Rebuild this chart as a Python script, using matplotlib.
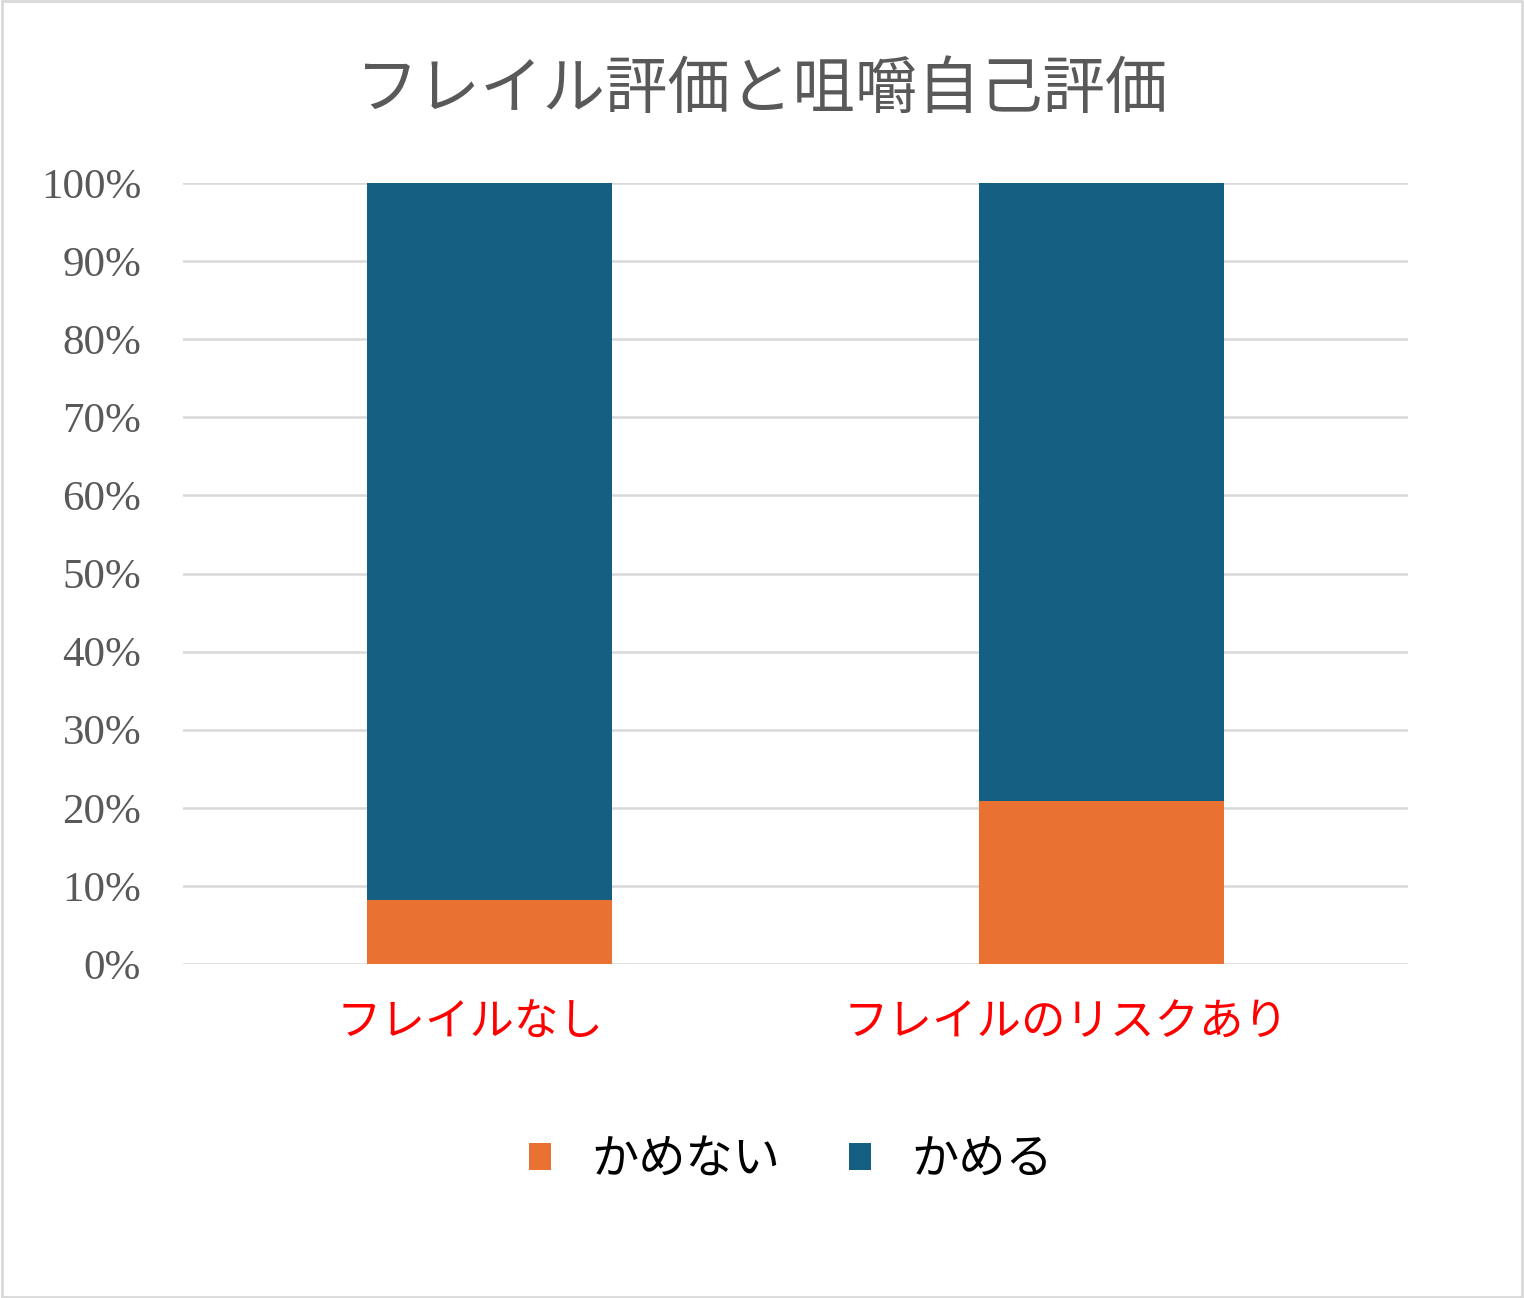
import matplotlib
matplotlib.use("Agg")
import matplotlib.pyplot as plt
from matplotlib.patches import Rectangle
from matplotlib.ticker import PercentFormatter
from matplotlib.transforms import ScaledTranslation

plt.rcParams['font.family'] = ['Noto Sans CJK JP', 'DejaVu Sans']

# data (percent)
categories = ['フレイルなし', 'フレイルのリスクあり']
cannot_chew = [8.2, 20.9]     # かめない
can_chew = [91.8, 79.1]       # かめる
series_names = ['かめない', 'かめる']
colors = ['#e97132', '#156082']

fig = plt.figure(figsize=(15.24, 12.98), dpi=100)
ax = fig.add_axes([0.120, 0.2573, 0.804, 0.6017])

x = list(range(len(categories)))
ax.bar(x, cannot_chew, width=0.4, color=colors[0], label=series_names[0], zorder=3)
ax.bar(x, can_chew, width=0.4, bottom=cannot_chew, color=colors[1],
       label=series_names[1], zorder=3)

ax.set_xlim(-0.5, 1.5)
ax.set_ylim(0, 100)
ax.set_yticks(range(0, 101, 10))
ax.yaxis.set_major_formatter(PercentFormatter(decimals=0))
ax.grid(axis='y', color='#d9d9d9', linewidth=1.8, zorder=0)
for s in ax.spines.values():
    s.set_visible(False)

ax.tick_params(axis='y', length=0, pad=30, labelsize=31, labelcolor='#595959')
for lab in ax.get_yticklabels():
    lab.set_family(['Liberation Serif', 'DejaVu Serif'])
ax.set_xticks(x)
ax.set_xticklabels(categories, fontsize=32, color='#ff0000')
ax.tick_params(axis='x', length=0, pad=26)
# labels in the original sit a little left of the bar centres
for lab, dx in zip(ax.get_xticklabels(), [-0.19, -0.36]):
    lab.set_transform(lab.get_transform() + ScaledTranslation(dx, 0, fig.dpi_scale_trans))

fig.suptitle('フレイル評価と咀嚼自己評価', y=1 - 90 / 1298, va='center',
             fontsize=45, color='#595959')

fig.legend(loc='center', bbox_to_anchor=(0.519, 1 - 1160 / 1298), ncol=2,
           frameon=False, fontsize=34, handlelength=0.48, handleheight=0.48,
           handletextpad=0.85, columnspacing=1.45)

fig.patches.append(Rectangle((0.001, 0.001), 0.998, 0.998, transform=fig.transFigure,
                             fill=False, edgecolor='#d9d9d9', linewidth=2))

fig.savefig('out.png', dpi=100)
